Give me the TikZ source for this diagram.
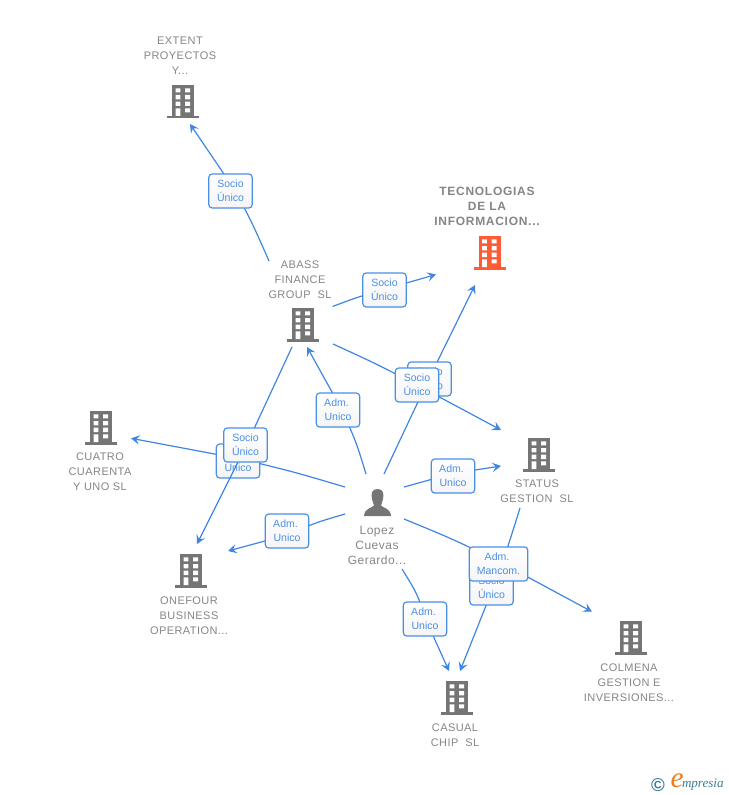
\documentclass[tikz,border=0pt]{standalone}
\usepackage{fontspec}
\setmainfont{Liberation Sans}
\newfontfamily\entfont[LetterSpace=4]{Liberation Sans}
\newfontfamily\rootfont[LetterSpace=6]{Liberation Sans}
\newfontfamily\logofont{Liberation Serif}
\usetikzlibrary{arrows.meta}
\definecolor{linkblue}{HTML}{3F86E4}
\definecolor{labelblue}{HTML}{4A8FE6}
\definecolor{icongrey}{HTML}{757575}
\definecolor{textgrey}{HTML}{858585}
\definecolor{rootred}{HTML}{FF5C35}
\definecolor{logoteal}{HTML}{3E7C96}
\definecolor{logoorange}{HTML}{F07D1A}
\tikzset{
  pics/bldicon/.style={code={
    \fill[#1] (-11,-16) rectangle (11,15);
    \fill[#1] (-16,15) rectangle (16,17.5);
    \fill[white] (-7.3,-12.7) rectangle (-2.7,-8.7) (2,-12.7) rectangle (7,-8.7)
                 (-7.3,-6) rectangle (-2.7,-1.7) (2,-6) rectangle (7,-1.7)
                 (-7.3,0.7) rectangle (-2.7,5) (2,0.7) rectangle (7,5)
                 (-7.3,7.3) rectangle (-2.7,15) (2,7.3) rectangle (7,11.3);
  }},
  anchorpt/.style={inner sep=0pt,minimum size=0pt,outer sep=0pt},
  enttext/.style={text=textgrey,align=center,inner sep=0pt,font=\entfont\fontsize{8.25}{11.25}\selectfont},
  roottext/.style={text=textgrey,align=center,inner sep=0pt,font=\rootfont\bfseries\fontsize{9}{11.25}\selectfont},
  perstext/.style={text=textgrey,align=center,inner sep=0pt,font=\entfont\fontsize{9}{11.25}\selectfont},
  conn/.style={draw=linkblue,line width=0.9pt,line join=round,-{Stealth[length=6.5pt,width=7pt,inset=2.6pt]}},
  linklabel/.style={draw=labelblue,top color=white,bottom color=black!4,line width=0.9pt,rounded corners=2.5pt,text=labelblue,align=center,
     inner sep=0pt,minimum width=32.5pt,minimum height=25.5pt,font=\fontsize{7.9}{10.5}\selectfont},
}
\newcommand{\admspace}{\kern2.2pt}
% from, start offset, to, control offset, knee offset, end offset (offsets in pixels from the node)
\newcommand{\edgelink}[6]{\draw[conn] ([shift={(#2)}]#1.center) .. controls ([shift={(#4)}]#3.center) .. ([shift={(#5)}]#3.center) -- ([shift={(#6)}]#3.center);}
\begin{document}
\begin{tikzpicture}[x=0.75pt,y=-0.75pt]
\useasboundingbox (0,0) rectangle (728,795);
% entity anchors and icons
\node[anchorpt] (extent) at (183,101) {};
\node[anchorpt] (abass) at (303,324) {};
\node[anchorpt] (tec) at (489.5,252) {};
\node[anchorpt] (cuatro) at (101,427) {};
\node[anchorpt] (status) at (539,454) {};
\node[anchorpt] (onefour) at (191,570) {};
\node[anchorpt] (colmena) at (631,637) {};
\node[anchorpt] (casual) at (457,697) {};
\node[anchorpt] (person) at (377,503) {};
\foreach \n in {extent,abass,cuatro,status,onefour,colmena,casual}{\pic at (\n) {bldicon=icongrey};}
\pic at (tec) {bldicon=rootred};
\fill[icongrey] (377.5,489) .. controls (371.5,489) and (371,494) .. (372,499)
  .. controls (372.6,502) and (373.5,503.5) .. (374,505.5)
  .. controls (372,508) and (364.5,508) .. (364,516) -- (391,516)
  .. controls (390.5,508) and (383,508) .. (381,505.5)
  .. controls (381.5,503.5) and (382.4,502) .. (383,499)
  .. controls (384,494) and (383.5,489) .. (377.5,489) -- cycle;
% entity texts
\node[enttext] (extentT) at (180,56) {EXTENT\\PROYECTOS\\Y...};
\node[roottext] (tecT) at (487,206) {TECNOLOGIAS\\DE LA\\INFORMACION...};
\node[enttext] (abassT) at (300,280) {ABASS\\FINANCE\\GROUP\ \ SL};
\node[enttext] (cuatroT) at (100,472) {CUATRO\\CUARENTA\\Y UNO SL};
\node[enttext] (statusT) at (537,491.5) {STATUS\\GESTION\ \ SL};
\node[enttext] (onefourT) at (189,616) {ONEFOUR\\BUSINESS\\OPERATION...};
\node[enttext] (colmenaT) at (629,683) {COLMENA\\GESTION E\\INVERSIONES...};
\node[enttext] (casualT) at (455,735) {CASUAL\\CHIP\ \ SL};
\node[perstext] (personT) at (377,545.5) {Lopez\\Cuevas\\Gerardo...};
% connectors with their labels, back to front
\edgelink{abass}{-34,-63}{extent}{70.4,124.5}{52.5,90}{7,23}
\node[linklabel] (l1) at (230.5,191) {Socio\\Único};
\edgelink{abass}{29.5,-17.5}{tec}{-131.3,44.9}{-105,37.3}{-53.5,22.5}
\node[linklabel] (l2) at (384.5,290) {Socio\\Único};
\edgelink{person}{-32,-16}{cuatro}{190.2,44.1}{137,31.4}{30,11.3}
\node[linklabel] (l5) at (238,461) {Adm.\admspace\\Unico};
\edgelink{abass}{-11,23}{onefour}{78,-174.5}{55.5,-125}{6,-26}
\node[linklabel] (l4) at (245.5,445) {Socio\\Único};
\edgelink{person}{-11,-29}{abass}{53.2,118}{39,86}{4,23}
\node[linklabel] (l6) at (338,410) {Adm.\admspace\\Unico};
\edgelink{person}{7,-29}{tec}{-83,174.5}{-60.7,127}{-14.5,33}
\node[linklabel] (l12) at (429.5,379) {Socio\\Único};
\edgelink{abass}{30,20}{status}{-163.8,-90.7}{-122,-69}{-38,-24}
\node[linklabel] (l3) at (417,385) {Socio\\Único};
\edgelink{person}{27,-16}{status}{-110.5,25.8}{-86,19.4}{-38,12}
\node[linklabel] (l7) at (453,476) {Adm.\admspace\\Unico};
\edgelink{person}{-32,11}{onefour}{125,-47.5}{96,-35}{37,-19}
\node[linklabel] (l8) at (287,531) {Adm.\admspace\\Unico};
\edgelink{person}{25,66}{casual}{-39.8,-103.5}{-31.4,-78}{-8,-26}
\node[linklabel] (l9) at (425,619) {Adm.\admspace\\Unico};
\edgelink{status}{-19,54}{casual}{50.5,-149}{36,-109}{3,-26}
\node[linklabel] (l11) at (491.5,588) {Socio\\Único};
\edgelink{person}{27,16}{colmena}{-179.5,-98.5}{-133,-76}{-39,-25.3}
\node[linklabel,minimum width=44pt] (l10) at (498.5,564) {Adm.\admspace\\Mancom.};
% logo
\node[anchorpt,text=logoteal,font=\bfseries\fontsize{14}{14}\selectfont] (logoc) at (658,785) {©};
\node[anchorpt,text=logoorange,font=\logofont\itshape\fontsize{22}{22}\selectfont] (logoe) at (677,781) {e};
\node[anchorpt,text=logoteal,font=\logofont\itshape\fontsize{9.8}{10}\selectfont,anchor=west] (logot) at (682,785) {mpresia};
\end{tikzpicture}
\end{document}
